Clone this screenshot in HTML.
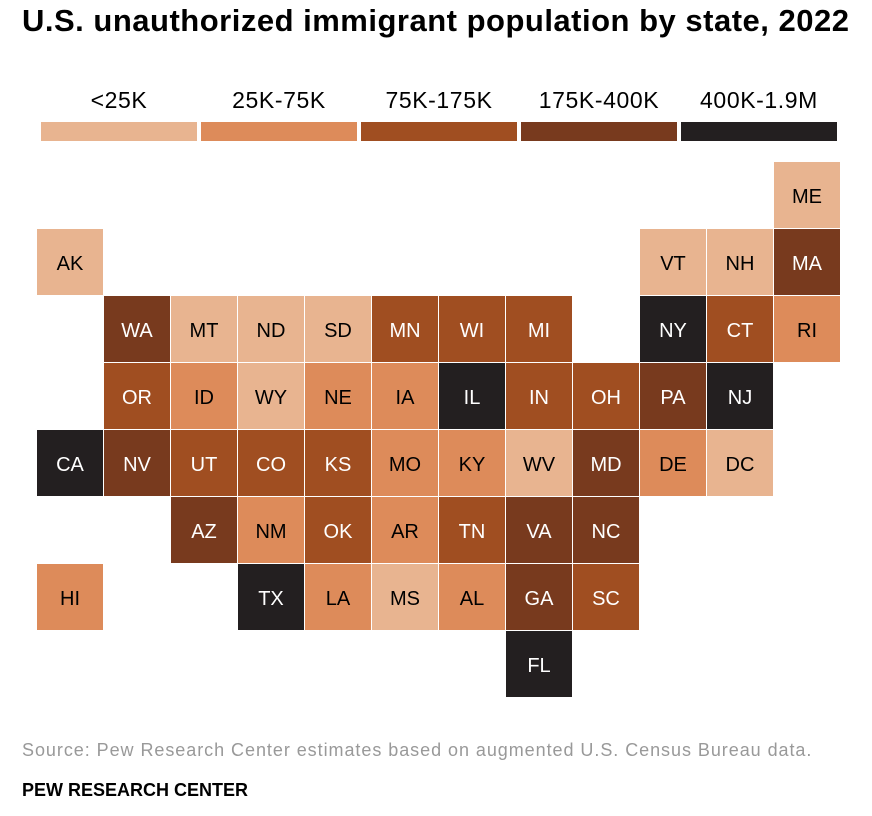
<!DOCTYPE html>
<html><head><meta charset="utf-8"><style>
body{margin:0;width:872px;height:816px;background:#fff;font-family:"Liberation Sans",Arial,sans-serif;position:relative;overflow:hidden}
.t{position:absolute;left:22px;top:3px;font-size:31px;font-weight:bold;color:#000;letter-spacing:0.5px;white-space:nowrap}
.lg{position:absolute;height:19px;top:122px;width:156px}
.ll{position:absolute;top:87px;width:156px;text-align:center;font-size:23px;letter-spacing:0.6px;color:#000}
.c{position:absolute;width:66px;height:66px;display:flex;align-items:center;justify-content:center;font-size:20px;padding-top:4px;box-sizing:border-box}
.src{position:absolute;left:22px;top:740px;font-size:18px;letter-spacing:0.95px;color:#999;white-space:nowrap}
.pew{position:absolute;left:22px;top:780px;font-size:18px;font-weight:bold;color:#000}
</style></head><body>
<div class="t">U.S. unauthorized immigrant population by state, 2022</div>
<div id="legend"></div>
<div id="map"></div>
<div class="src">Source: Pew Research Center estimates based on augmented U.S. Census Bureau data.</div>
<div class="pew">PEW RESEARCH CENTER</div>
<script>
const levelLabels=["<25K","25K-75K","75K-175K","175K-400K","400K-1.9M"];
const levelColors=["#e8b490","#dd8b5a","#a04e21","#783a1e","#231f20"];
const states=["ME","AK","VT","NH","MA","WA","MT","ND","SD","MN","WI","MI","NY","CT","RI","OR","ID","WY","NE","IA","IL","IN","OH","PA","NJ","CA","NV","UT","CO","KS","MO","KY","WV","MD","DE","DC","AZ","NM","OK","AR","TN","VA","NC","HI","TX","LA","MS","AL","GA","SC","FL"];
const cols=[11,0,9,10,11,1,2,3,4,5,6,7,9,10,11,1,2,3,4,5,6,7,8,9,10,0,1,2,3,4,5,6,7,8,9,10,2,3,4,5,6,7,8,0,3,4,5,6,7,8,7];
const rows=[0,1,1,1,1,2,2,2,2,2,2,2,2,2,2,3,3,3,3,3,3,3,3,3,3,4,4,4,4,4,4,4,4,4,4,4,5,5,5,5,5,5,5,6,6,6,6,6,6,6,7];
const levels=[1,1,1,1,4,4,1,1,1,3,3,3,5,3,2,3,2,1,2,2,5,3,3,4,5,5,4,3,3,3,2,2,1,4,2,1,4,2,3,2,3,4,4,2,5,2,1,2,4,3,5];
const lg=document.getElementById('legend');
levelLabels.forEach((l,i)=>{
  const b=document.createElement('div');b.className='lg';b.style.left=(41+i*160)+'px';b.style.background=levelColors[i];
  
  
  lg.appendChild(b);
  const t=document.createElement('div');t.className='ll';t.style.left=(41+i*160)+'px';t.textContent=l;
  
  
  lg.appendChild(t);
});
const m=document.getElementById('map');
states.forEach((s,i)=>{
  const d=document.createElement('div');d.className='c';
  d.style.left=(37+cols[i]*67)+'px';d.style.top=(162+rows[i]*67)+'px';
  const lv=levels[i]-1;d.style.background=levelColors[lv];d.style.color=lv>=2?'#fff':'#000';
  d.textContent=s;
  
  
  m.appendChild(d);
});
</script>
</body></html>
